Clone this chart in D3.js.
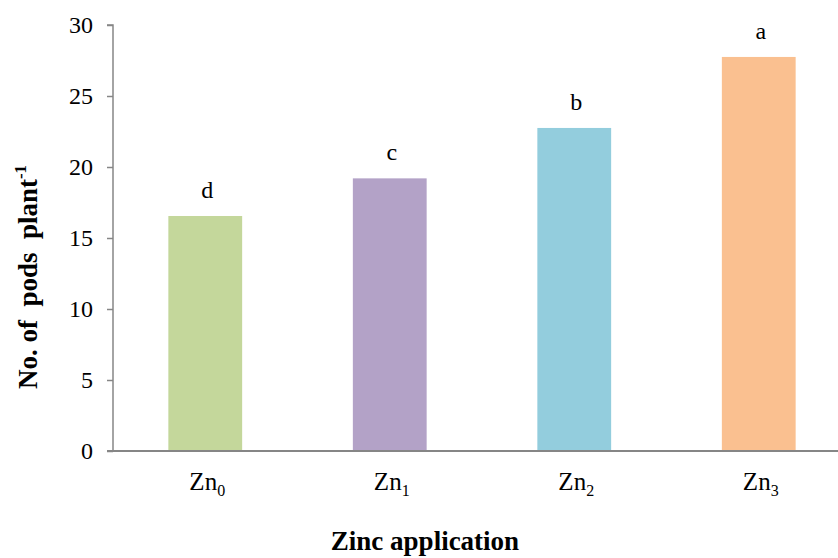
<!DOCTYPE html>
<html><head><meta charset="utf-8">
<script src="https://cdn.jsdelivr.net/npm/d3@7"></script>
<style>body{margin:0;background:#fff}svg{display:block}text{font-family:"Liberation Serif","Times New Roman",serif !important;white-space:pre}</style>
</head><body>
<svg id="c" width="838" height="558"></svg>
<script>
const categories = ["0", "1", "2", "3"];
const values = [16.55, 19.2, 22.75, 27.75];
const letters = ["d", "c", "b", "a"];
const colors = ["#C4D79B", "#B3A2C7", "#93CDDD", "#FAC090"];
const yTicks = [0, 5, 10, 15, 20, 25, 30];

const svg = d3.select("#c");
const x0 = 113, x1 = 851, yTop = 25, yBot = 451;
const x = d3.scaleBand().domain(categories).range([x0, x1]).paddingInner(0.6).paddingOuter(0.3);
const y = d3.scaleLinear().domain([0, 30]).range([yBot, yTop]);
const axisColor = "#868686";
const serif = "'Liberation Serif', 'Times New Roman', serif";

// bars
svg.selectAll("rect.bar").data(values).join("rect")
  .attr("x", (d, i) => x(categories[i]))
  .attr("y", d => y(d))
  .attr("width", x.bandwidth())
  .attr("height", d => yBot - y(d))
  .attr("fill", (d, i) => colors[i]);

// letters
svg.selectAll("text.lt").data(values).join("text")
  .attr("x", (d, i) => x(categories[i]) + x.bandwidth() / 2 + 2)
  .attr("y", d => y(d) - 18)
  .attr("text-anchor", "middle")
  .attr("font-family", serif)
  .attr("font-size", 24)
  .text((d, i) => letters[i]);

// y axis
const ya = svg.append("g").attr("transform", `translate(${x0},0)`)
  .call(d3.axisLeft(y).tickValues(yTicks).tickSize(6).tickPadding(14));
ya.attr("font-family", serif).attr("font-size", 24);
ya.select(".domain").attr("stroke", axisColor).attr("stroke-width", 1.5).attr("d", `M-6,${yTop}H0V${yBot}`);
ya.selectAll(".tick line").attr("stroke", axisColor).attr("stroke-width", 1.5);
ya.selectAll(".tick text").attr("font-size", 24).attr("fill", "#000").attr("font-family", serif);

// x axis
const xa = svg.append("g").attr("transform", `translate(0,${yBot})`)
  .call(d3.axisBottom(x).tickSize(0).tickFormat(""));
xa.select(".domain").attr("stroke", axisColor).attr("stroke-width", 2).attr("d", `M${x0 - 6},0H${x1}`);

// category labels
const cl = svg.selectAll("text.cl").data(categories).join("text")
  .attr("x", d => x(d) + x.bandwidth() / 2 + 2)
  .attr("y", 490)
  .attr("text-anchor", "middle")
  .attr("font-family", serif)
  .attr("font-size", 25);
cl.append("tspan").text("Zn");
cl.append("tspan").attr("font-size", 16).attr("dy", 6).text(d => d);

// y title
const yt = svg.append("text")
  .attr("transform", "translate(37,277) rotate(-90)")
  .attr("text-anchor", "middle")
  .attr("font-family", serif)
  .attr("font-size", 27).attr("font-weight", "bold");
yt.append("tspan").text("No. of  pods  plant");
yt.append("tspan").attr("font-size", 17).attr("dy", -11).text("-1");

// x title
svg.append("text")
  .attr("x", 425).attr("y", 550)
  .attr("text-anchor", "middle")
  .attr("font-family", serif)
  .attr("font-size", 27).attr("font-weight", "bold")
  .text("Zinc application");
</script>
</body></html>
